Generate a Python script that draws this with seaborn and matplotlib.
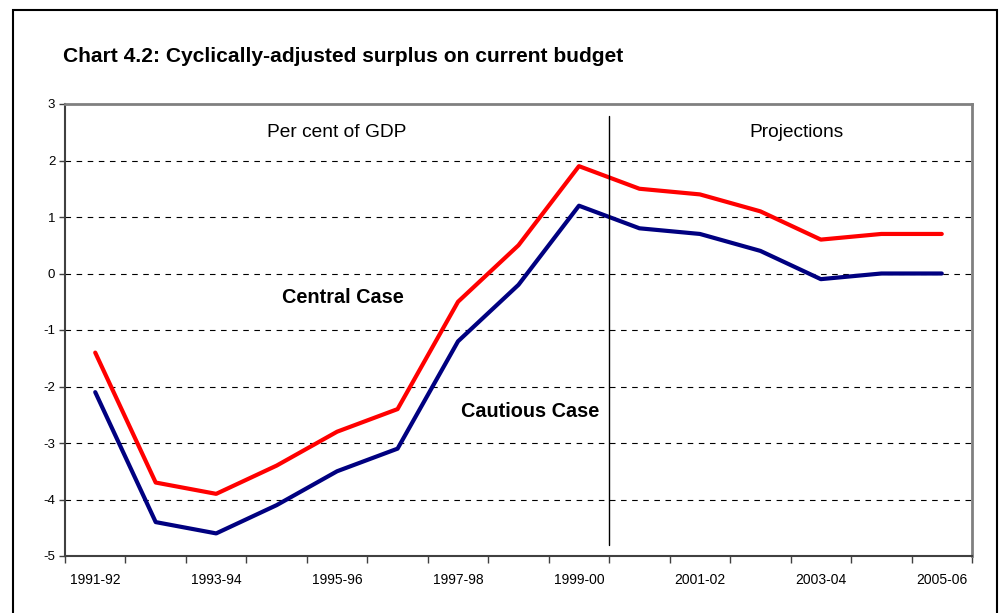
import matplotlib
matplotlib.use("Agg")
import matplotlib.pyplot as plt
from matplotlib.patches import Rectangle
import seaborn as sns
import pandas as pd
import numpy as np

years = ["1991-92", "1992-93", "1993-94", "1994-95", "1995-96", "1996-97",
         "1997-98", "1998-99", "1999-00", "2000-01", "2001-02", "2002-03",
         "2003-04", "2004-05", "2005-06"]
central_case = [-1.4, -3.7, -3.9, -3.4, -2.8, -2.4, -0.5, 0.5, 1.9,
                1.5, 1.4, 1.1, 0.6, 0.7, 0.7]
cautious_case = [-2.1, -4.4, -4.6, -4.1, -3.5, -3.1, -1.2, -0.2, 1.2,
                 0.8, 0.7, 0.4, -0.1, 0.0, 0.0]
y_ticks = [3, 2, 1, 0, -1, -2, -3, -4, -5]

sns.set_theme(style="white")
plt.rcParams["font.family"] = ["Liberation Sans", "DejaVu Sans"]
plt.rcParams["text.color"] = "black"
plt.rcParams["xtick.color"] = "black"
plt.rcParams["ytick.color"] = "black"

df = pd.DataFrame({
    "pos": list(range(len(years))) * 2,
    "value": central_case + cautious_case,
    "case": ["Central Case"] * len(years) + ["Cautious Case"] * len(years),
})

fig = plt.figure(figsize=(10, 6.13), dpi=100)
ax = fig.add_axes([0.065, 1 - 556 / 613, 0.907, (556 - 104) / 613])

# outer frame of the chart
fig.patches.append(Rectangle((0.013, -0.02), 0.984, 1.02 - 10 / 613,
                             transform=fig.transFigure, fill=False,
                             edgecolor="black", linewidth=1.5))

for yv in [2, 1, 0, -1, -2, -3, -4]:
    ax.axhline(yv, color="black", linewidth=0.8, dashes=(5, 5), zorder=1)

sns.lineplot(data=df, x="pos", y="value", hue="case",
             palette={"Central Case": "#FF0000", "Cautious Case": "#000080"},
             linewidth=3, legend=False, ax=ax, zorder=3)

# boundary between outturns and projections
ax.plot([8.5, 8.5], [2.79, -4.8], color="black", linewidth=1.0, zorder=4)

ax.set_xlim(-0.5, len(years) - 0.5)
ax.set_ylim(-5, 3)
ax.set_yticks(y_ticks)
ax.set_yticklabels([str(v) for v in y_ticks], fontsize=9.5)
ax.set_xticks(np.arange(-0.5, len(years), 1.0))
ax.set_xticklabels([])
ax.set_xticks(np.arange(0, len(years), 2), minor=True)
ax.set_xticklabels(years[::2], minor=True, fontsize=10)
ax.tick_params(axis="x", which="major", direction="out", length=5, width=1,
               color="#404040", bottom=True)
ax.tick_params(axis="x", which="minor", length=0, pad=12)
ax.tick_params(axis="y", direction="out", length=4, width=1,
               color="#404040", left=True, pad=3)
ax.set_xlabel("")
ax.set_ylabel("")

for side in ["top", "right"]:
    ax.spines[side].set_color("#808080")
    ax.spines[side].set_linewidth(2)
for side in ["left", "bottom"]:
    ax.spines[side].set_color("#404040")
    ax.spines[side].set_linewidth(1.5)

ax.text(4.0, 2.5, "Per cent of GDP", ha="center", va="center", fontsize=13.8)
ax.text(11.6, 2.5, "Projections", ha="center", va="center", fontsize=13.8)
ax.text(4.1, -0.43, "Central Case", ha="center", va="center",
        fontsize=14.3, fontweight="bold")
ax.text(7.2, -2.45, "Cautious Case", ha="center", va="center",
        fontsize=14.3, fontweight="bold")

fig.text(0.063, 1 - 57 / 613, "Chart 4.2: Cyclically-adjusted surplus on current budget",
         ha="left", va="center", fontsize=15.1, fontweight="bold")

fig.savefig("out.png", dpi=100, facecolor="white")
